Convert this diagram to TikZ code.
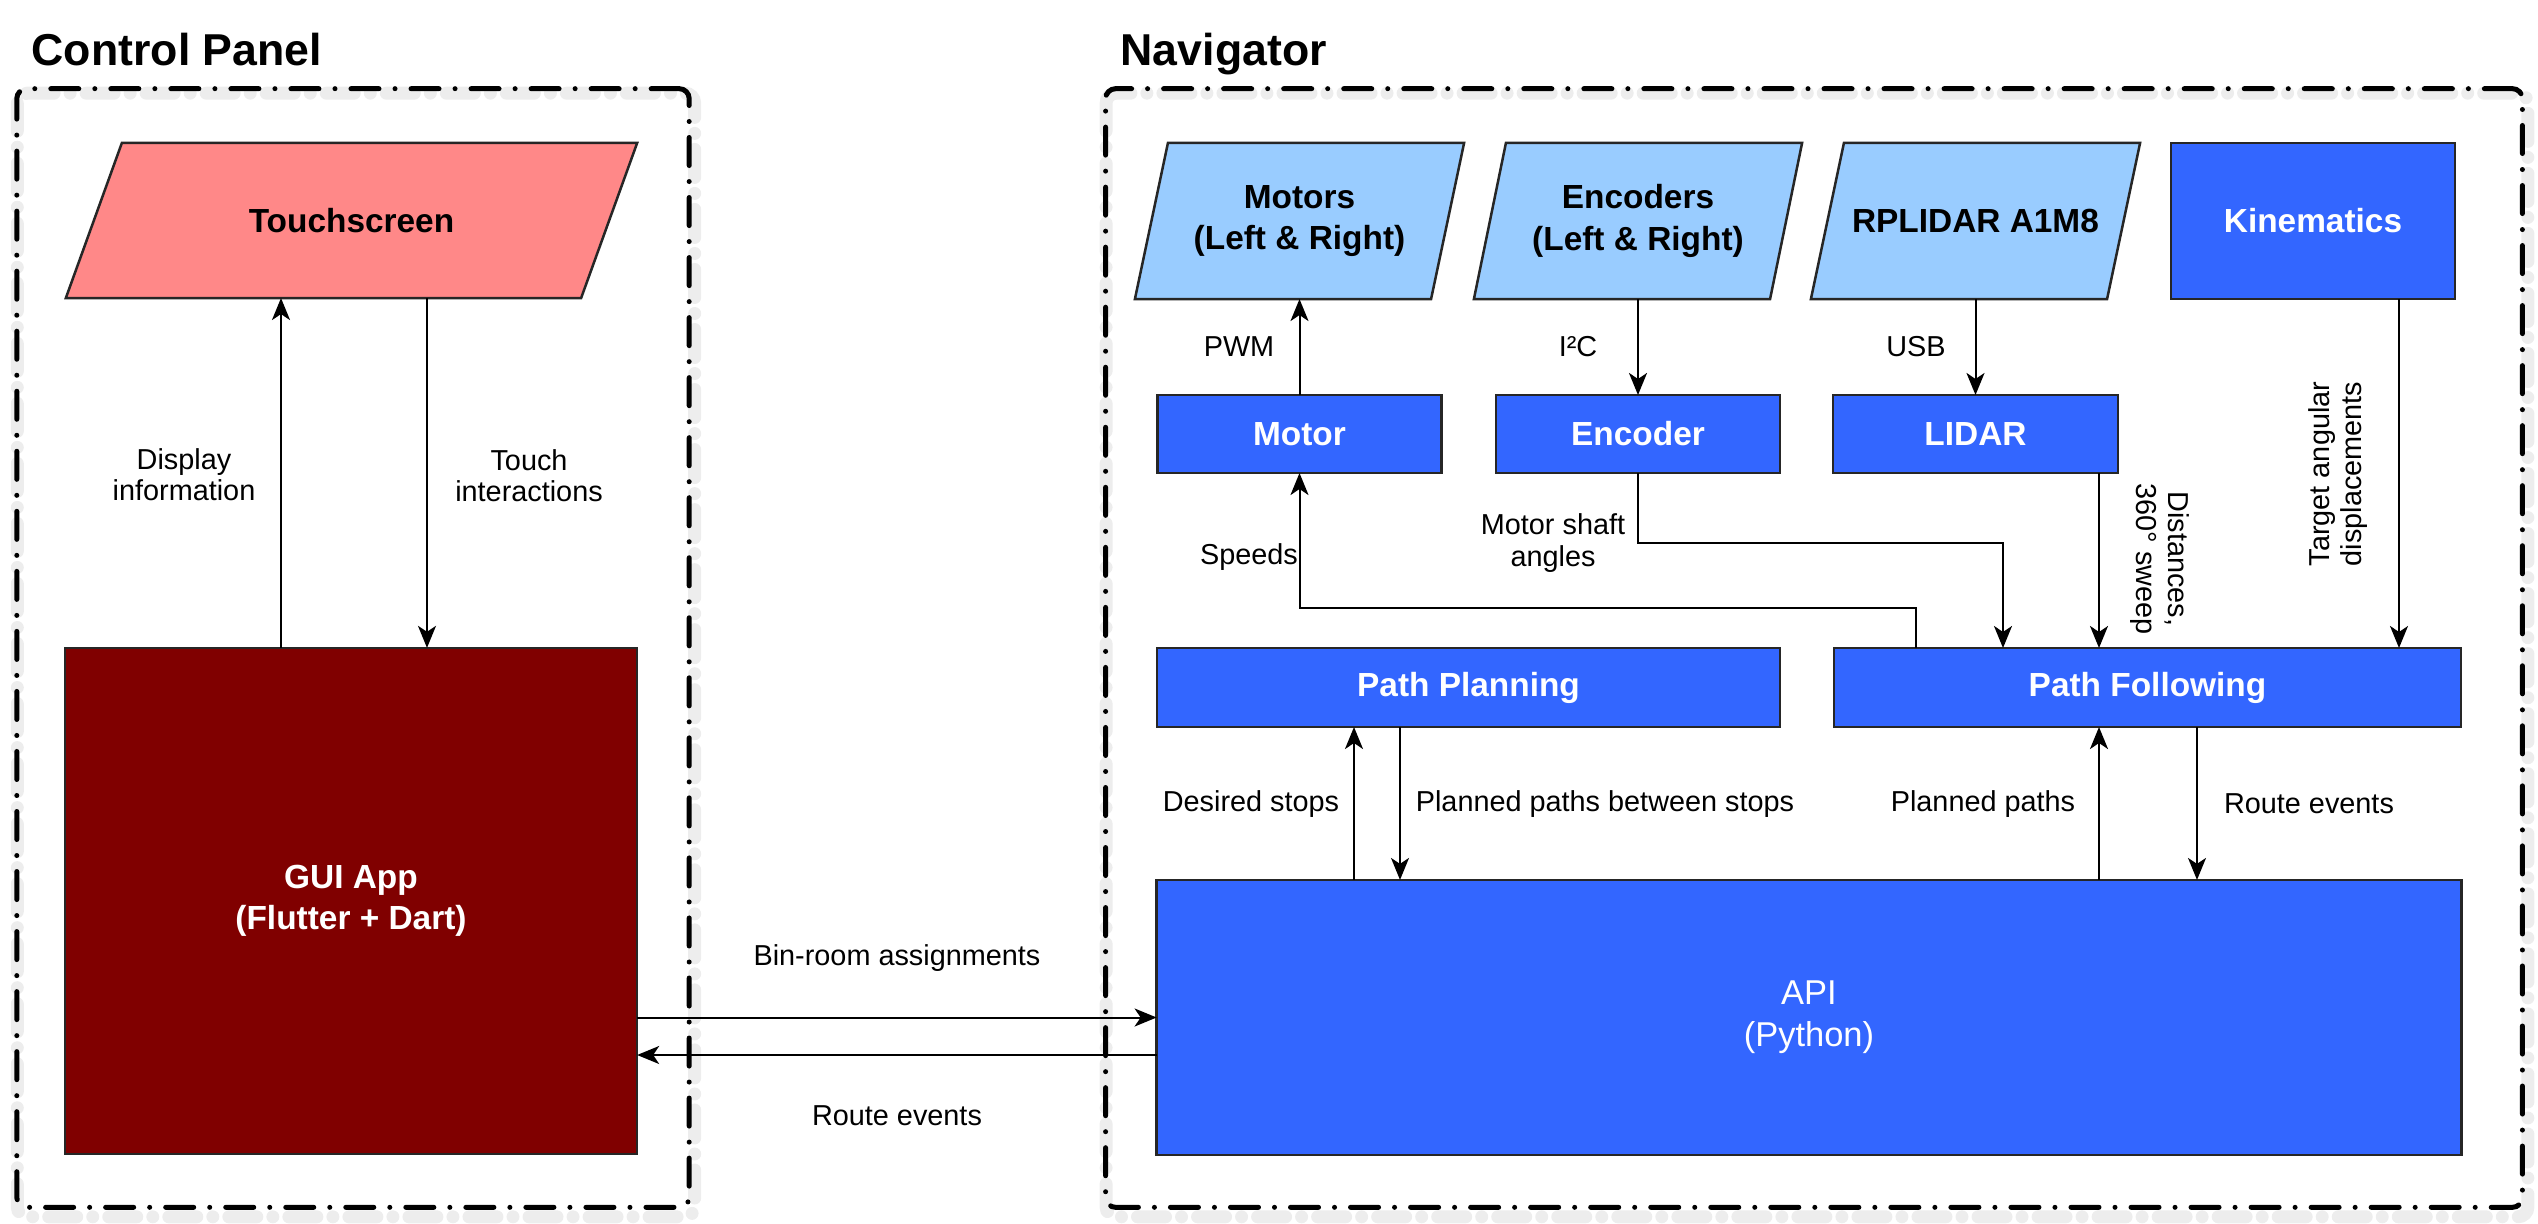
\documentclass[tikz,border=0pt]{standalone}
\usepackage{fontspec}
\setmainfont{Liberation Sans}
\usetikzlibrary{arrows.meta,backgrounds,calc}
\definecolor{pinkfill}{HTML}{FF8888}
\definecolor{lightblue}{HTML}{99CCFF}
\definecolor{bluefill}{HTML}{3366FF}
\definecolor{darkred}{HTML}{800000}
\newcommand\myboxfont{\fontsize{9.5}{11.7}\selectfont\bfseries}
\newcommand\myapifont{\fontsize{9.8}{12}\selectfont}
\newcommand\mylblfont{\fontsize{8.2}{8.9}\selectfont}
\newcommand\mytitlefont{\fontsize{12.7}{15}\selectfont\bfseries}
\begin{document}
\begin{tikzpicture}[x=0.01cm, y=-0.01cm,
  container/.style={draw=black, line width=0.05cm, line cap=round, dash pattern=on 0.28cm off 0.16cm on 0cm off 0.16cm, rounded corners=0.1cm},
  cshadow/.style={draw=black!7, line width=0.13cm, line cap=round, dash pattern=on 0.28cm off 0.16cm on 0cm off 0.16cm, rounded corners=0.1cm},
  boxline/.style={draw=black!85, line width=0.025cm},
  bluebox/.style={boxline, fill=bluefill, text=white, font=\myboxfont, align=center, outer sep=0pt, inner sep=0pt},
  redbox/.style={boxline, fill=darkred, text=white, font=\myboxfont, align=center, outer sep=0pt, inner sep=0pt},
  paranode/.style={outer sep=0pt, inner sep=0pt, align=center, font=\myboxfont},
  conn/.style={line width=0.02cm, draw=black},
  arr/.style={conn, -{Stealth[length=0.22cm, width=0.18cm, inset=0.06cm]}},
  lbl/.style={font=\mylblfont, align=center, inner sep=0pt},
  title/.style={font=\mytitlefont, anchor=base west, inner sep=0pt},
]
\useasboundingbox (0,0) rectangle (2538,1224);

% titles
\node[title] (tcp) at (31,65) {Control Panel};
\node[title] (tnav) at (1120,65) {Navigator};

% containers
\node[container, minimum width=6.72cm, minimum height=11.18cm] (cp) at (353,648) {};
\node[container, minimum width=14.16cm, minimum height=11.18cm] (nav) at (1814,648) {};

% control panel nodes
\node[paranode, minimum width=5.71cm, minimum height=1.55cm] (touch) at (351.5,220.5) {Touchscreen};
\node[redbox, minimum width=5.72cm, minimum height=5.06cm] (gui) at (351,901) {GUI App\\(Flutter + Dart)};

% navigator nodes
\node[paranode, minimum width=3.29cm, minimum height=1.56cm] (motors) at (1299.5,221) {Motors\\(Left \& Right)};
\node[paranode, minimum width=3.28cm, minimum height=1.56cm] (encoders) at (1638,221) {Encoders\\(Left \& Right)};
\node[paranode, minimum width=3.29cm, minimum height=1.56cm] (rplidar) at (1975.5,221) {RPLIDAR A1M8};
\node[bluebox, minimum width=2.84cm, minimum height=1.56cm] (kin) at (2313,221) {Kinematics};
\node[bluebox, minimum width=2.84cm, minimum height=0.78cm] (motor) at (1299.5,434) {Motor};
\node[bluebox, minimum width=2.84cm, minimum height=0.78cm] (encoder) at (1638,434) {Encoder};
\node[bluebox, minimum width=2.85cm, minimum height=0.78cm] (lidar) at (1975.5,434) {LIDAR};
\node[bluebox, minimum width=6.23cm, minimum height=0.79cm] (pp) at (1468.5,687.5) {Path Planning};
\node[bluebox, minimum width=6.27cm, minimum height=0.79cm] (pf) at (2147.5,687.5) {Path Following};
\node[bluebox, font=\myapifont, minimum width=13.04cm, minimum height=2.75cm] (api) at (1809,1017.5) {API\\(Python)};

% parallelogram outlines and shadows
\begin{scope}[on background layer]
  \draw[cshadow] ([shift={(3,7)}]cp.north west) rectangle ([shift={(3,7)}]cp.south east);
  \draw[cshadow] ([shift={(3,7)}]nav.north west) rectangle ([shift={(3,7)}]nav.south east);
  \filldraw[boxline, fill=pinkfill] (touch.south west) -- ([xshift=0.56cm]touch.north west) -- (touch.north east) -- ([xshift=-0.56cm]touch.south east) -- cycle;
  \filldraw[boxline, fill=lightblue] (motors.south west) -- ([xshift=0.33cm]motors.north west) -- (motors.north east) -- ([xshift=-0.33cm]motors.south east) -- cycle;
  \filldraw[boxline, fill=lightblue] (encoders.south west) -- ([xshift=0.32cm]encoders.north west) -- (encoders.north east) -- ([xshift=-0.32cm]encoders.south east) -- cycle;
  \filldraw[boxline, fill=lightblue] (rplidar.south west) -- ([xshift=0.33cm]rplidar.north west) -- (rplidar.north east) -- ([xshift=-0.33cm]rplidar.south east) -- cycle;
\end{scope}

% helper coordinates
\coordinate (xdisp) at (281,0);
\coordinate (xtouch) at (427,0);
\coordinate (cspd) at (1916,608);
\coordinate (cenc) at (2003,543);
\coordinate (xlid) at (2099,0);
\coordinate (xkin) at (2399,0);
\coordinate (xds) at (1354,0);
\coordinate (xpps) at (1400,0);
\coordinate (xpp) at (2099,0);
\coordinate (xre) at (2197,0);
\coordinate (yret) at (0,1055);

% connectors
\draw[arr] (gui.north -| xdisp) -- (touch.south -| xdisp);
\draw[arr] (touch.south -| xtouch) -- (gui.north -| xtouch);
\draw[arr] (motor.north) -- (motors.south);
\draw[arr] (encoders.south) -- (encoder.north);
\draw[arr] (rplidar.south) -- (lidar.north);
\draw[arr] (pf.north -| cspd) -- (cspd) -| (motor.south);
\draw[arr] (encoder.south) |- (cenc) -- (pf.north -| cenc);
\draw[arr] (lidar.south -| xlid) -- (pf.north -| xlid);
\draw[arr] (kin.south -| xkin) -- (pf.north -| xkin);
\draw[arr] (api.north -| xds) -- (pp.south -| xds);
\draw[arr] (pp.south -| xpps) -- (api.north -| xpps);
\draw[arr] (api.north -| xpp) -- (pf.south -| xpp);
\draw[arr] (pf.south -| xre) -- (api.north -| xre);
\draw[arr] (gui.east |- api.west) -- (api.west);
\draw[arr] (api.west |- yret) -- (gui.east |- yret);

% labels
\node[lbl] (ldisp) at (184,475) {Display\\information};
\node[lbl] (ltouch) at (529,476) {Touch\\interactions};
\node[lbl] (lpwm) at (1239,347) {PWM};
\node[lbl] (li2c) at (1578,347) {I²C};
\node[lbl] (lusb) at (1916,347) {USB};
\node[lbl] (lspd) at (1249,557) {Speeds};
\node[lbl] (lmsa) at (1553,543) {Motor shaft\\angles};
\node[lbl, rotate=-90] (ldist) at (2160,559) {Distances,\\360° sweep};
\node[lbl, rotate=90] (ltad) at (2338,474) {Target angular\\displacements};
\node[lbl] (lds) at (1251,804) {Desired stops};
\node[lbl] (lppbs) at (1605,804) {Planned paths between stops};
\node[lbl] (lpp) at (1983,804) {Planned paths};
\node[lbl] (lre) at (2309,804) {Route events};
\node[lbl] (lbin) at (897,958) {Bin-room assignments};
\node[lbl] (lre2) at (897,1116) {Route events};
\end{tikzpicture}
\end{document}
